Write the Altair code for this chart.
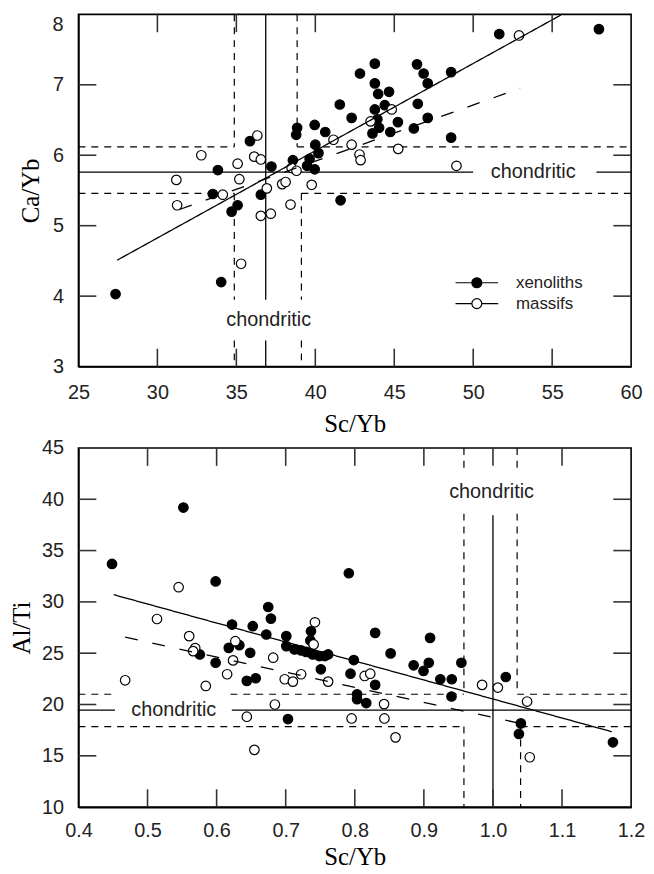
import altair as alt
import pandas as pd

SERIES = ["xenoliths", "massifs"]

top_xen_sc = [27.35, 34.04, 34.7, 35.08, 33.51, 33.83, 35.86, 36.55, 37.22, 38.85, 38.79,
              38.58, 39.48, 39.64, 39.96, 39.96, 40.0, 40.2, 40.63, 41.55, 41.6, 42.3,
              42.83, 43.77, 43.77, 43.98, 44.67, 43.77, 44.4, 43.93, 45.23, 44.04, 43.62,
              44.75, 46.44, 46.86, 47.12, 46.49, 47.12, 46.24, 48.6, 48.6, 51.65, 57.96]
top_xen_ca = [4.03, 4.20, 5.20, 5.29, 5.45, 5.79, 6.20, 5.44, 5.84, 6.39, 6.29,
              5.93, 5.85, 5.95, 5.80, 6.43, 6.15, 6.03, 6.33, 6.72, 5.36, 6.53,
              7.16, 7.30, 7.02, 6.87, 6.90, 6.65, 6.71, 6.51, 6.47, 6.39, 6.31,
              6.33, 7.29, 7.16, 7.02, 6.73, 6.53, 6.38, 7.18, 6.25, 7.72, 7.79]
top_mas_sc = [31.2, 31.25, 32.78, 34.14, 35.08, 35.19, 35.3, 36.33, 36.13, 36.55, 36.55,
              37.18, 36.93, 37.9, 38.12, 38.43, 38.5, 38.81, 39.77, 41.15, 42.3, 42.8,
              42.87, 43.5, 44.84, 45.25, 48.94, 52.9]
top_mas_ca = [5.65, 5.29, 6.0, 5.44, 5.88, 5.66, 4.46, 6.28, 5.98, 5.94, 5.14,
              5.17, 5.53, 5.59, 5.62, 5.30, 5.82, 5.78, 5.58, 6.22, 6.15, 6.01,
              5.93, 6.48, 6.65, 6.09, 5.85, 7.70]
top_fit_xen_x = [27.45, 55.55]
top_fit_xen_y = [4.51, 7.99]
top_fit_mas_x = [31.4, 52.97]
top_fit_mas_y = [5.23, 6.95]
top_solid = [(36.86, 36.86, 8.0, 3.95), (36.86, 36.86, 3.37, 3.0),
             (25.0, 50.0, 5.76, 5.76), (57.8, 60.0, 5.76, 5.76)]
top_dashed = [(25.0, 34.87, 6.12, 6.12), (38.85, 60.0, 6.12, 6.12),
              (25.0, 34.87, 5.46, 5.46), (39.12, 60.0, 5.46, 5.46),
              (34.87, 34.87, 8.0, 6.12), (34.87, 34.87, 5.46, 3.95), (34.87, 34.87, 3.37, 3.0),
              (38.85, 38.85, 8.0, 6.12),
              (39.12, 39.12, 5.46, 3.95), (39.12, 39.12, 3.37, 3.0)]
top_texts = [(53.8, 5.76, "chondritic"), (37.05, 3.66, "chondritic")]
top_xlabels = [25, 30, 35, 40, 45, 50, 55, 60]
top_ylabels = [3, 4, 5, 6, 7]
top_ylabel_top = "8"
top_xticks = [30, 35, 40, 45, 50, 55]
top_yticks = [4, 5, 6, 7]

bot_xen_sc = [0.4486, 0.5519, 0.5986, 0.6223, 0.6523, 0.6747, 0.6786, 0.5757, 0.5986, 0.6176,
              0.6329, 0.6486, 0.6437, 0.6566, 0.6719, 0.7009, 0.7009, 0.7033, 0.7128, 0.7223,
              0.7295, 0.739, 0.7486, 0.7566, 0.7614, 0.7366, 0.7357, 0.7509, 0.7914, 0.7986,
              0.7938, 0.8295, 0.8519, 0.8295, 0.8033, 0.8033, 0.8166, 0.8852, 0.8995, 0.9071,
              0.909, 0.9238, 0.9404, 0.94, 0.9543, 1.0186, 1.0404, 1.0376, 1.1737]
bot_xen_alti = [33.7, 39.19, 31.99, 27.79, 27.63, 29.5, 28.37, 24.88, 24.07, 25.52,
                25.78, 25.04, 22.30, 22.56, 26.82, 26.66, 25.69, 18.58, 25.37, 25.27,
                25.13, 24.88, 24.72, 24.72, 24.88, 27.14, 26.24, 23.43, 32.79, 24.33,
                23.0, 26.98, 24.98, 21.91, 21.0, 20.52, 20.14, 23.82, 23.27, 24.07,
                26.49, 22.46, 22.46, 20.78, 24.07, 22.68, 18.16, 17.13, 16.32]
bot_mas_sc = [0.4676, 0.5137, 0.545, 0.5603, 0.569, 0.566, 0.5843, 0.6152, 0.6238, 0.6271,
              0.6437, 0.6547, 0.6819, 0.6843, 0.6986, 0.7104, 0.7223, 0.7423, 0.7404, 0.7614,
              0.8143, 0.8224, 0.7954, 0.8424, 0.8429, 0.859, 0.9843, 1.0071, 1.0494, 1.0533]
bot_mas_alti = [22.36, 28.33, 31.43, 26.66, 25.5, 25.2, 21.81, 22.95, 24.3, 26.17,
                18.81, 15.58, 24.56, 20.0, 22.46, 22.23, 22.95, 28.01, 25.85, 22.23,
                22.78, 23.0, 18.64, 20.04, 18.64, 16.8, 21.91, 21.65, 20.29, 14.86]
bot_fit_xen_x = [0.451, 1.172]
bot_fit_xen_y = [30.7, 17.35]
bot_fit_mas_x = [0.4676, 1.05]
bot_fit_mas_y = [26.56, 18.0]
bot_solid = [(1.0, 1.0, 38.45, 10.0),
             (0.4, 0.453, 19.45, 19.45), (0.622, 1.2, 19.45, 19.45)]
bot_dashed = [(0.4, 0.455, 21.0, 21.0), (0.62, 0.958, 21.0, 21.0), (1.035, 1.2, 21.0, 21.0),
              (0.4, 0.958, 17.85, 17.85), (1.04, 1.2, 17.85, 17.85),
              (0.958, 0.958, 45.0, 42.8), (0.958, 0.958, 38.6, 21.0), (0.958, 0.958, 17.85, 10.0),
              (1.035, 1.035, 45.0, 42.8), (1.035, 1.035, 38.6, 21.0),
              (1.04, 1.04, 17.85, 10.0)]
bot_texts = [(0.538, 19.45, "chondritic"), (0.998, 40.7, "chondritic")]
bot_xlabels = [0.4, 0.5, 0.6, 0.7, 0.8, 0.9, 1.0, 1.1, 1.2]
bot_ylabels = [10, 15, 20, 25, 30, 35, 40, 45]
bot_xticks = [0.5, 0.6, 0.7, 0.8, 0.9, 1.0, 1.1]
bot_yticks = [15, 20, 25, 30, 35, 40]

SANS = "Liberation Sans"
SERIF = "Liberation Serif"
TXT = "#222222"
TICK = 18      # tick length, px
TICKW = 1.6    # tick thickness, px
LEGEND_PATH = "M-4.3,0L-1,0M1,0L4.3,0M1,0A1,1,0,1,1,-1,0A1,1,0,1,1,1,0Z"


def panel(xen_x, xen_y, mas_x, mas_y, fxx, fxy, fmx, fmy, solid, dashed, texts,
          xdom, ydom, xlabels, ylabels, xticks, yticks, xfmt, ytitle,
          W, H, xlabpad, xtitlepad, ytitlepad, legend, top_label):
    xs = alt.Scale(domain=xdom, nice=False, zero=False)
    ys = alt.Scale(domain=ydom, nice=False, zero=False)
    xaxis = alt.Axis(values=xlabels, format=xfmt, title="Sc/Yb", labelPadding=xlabpad,
                     titlePadding=xtitlepad, labelFlush=False, labelOverlap=False)
    yaxis = alt.Axis(values=ylabels, title=ytitle, labelPadding=15, titlePadding=ytitlepad,
                     labelOverlap=False, labelFlush=False)

    def X(f):
        return alt.X(f, type="quantitative", scale=xs, axis=xaxis)

    def Y(f):
        return alt.Y(f, type="quantitative", scale=ys, axis=yaxis)

    pts = pd.DataFrame({
        "x": list(xen_x) + list(mas_x),
        "y": list(xen_y) + list(mas_y),
        "series": ["xenoliths"] * len(xen_x) + ["massifs"] * len(mas_x),
    })
    fits = pd.DataFrame({
        "x": list(fxx) + list(fmx),
        "y": list(fxy) + list(fmy),
        "fit": ["xen"] * 2 + ["mas"] * 2,
    })
    sol = pd.DataFrame(solid, columns=["x", "x2", "y", "y2"])
    das = pd.DataFrame(dashed, columns=["x", "x2", "y", "y2"])
    txt = pd.DataFrame(texts, columns=["x", "y", "t"])

    # inward tick marks on all four sides, as thin rectangles (TICK x TICKW px)
    sy = (ydom[1] - ydom[0]) / H
    sx = (xdom[1] - xdom[0]) / W
    tick_rows = []
    for v in xticks:
        a, b = v - sx * TICKW / 2, v + sx * TICKW / 2
        tick_rows.append((a, b, ydom[0], ydom[0] + sy * TICK))
        tick_rows.append((a, b, ydom[1] - sy * TICK, ydom[1]))
    for v in yticks:
        a, b = v - sy * TICKW / 2, v + sy * TICKW / 2
        tick_rows.append((xdom[0], xdom[0] + sx * TICK, a, b))
        tick_rows.append((xdom[1] - sx * TICK, xdom[1], a, b))
    ticks = pd.DataFrame(tick_rows, columns=["tx", "tx2", "ty", "ty2"])

    solid_l = alt.Chart(sol).mark_rule(color="black", strokeWidth=1.3).encode(
        x=X("x"), x2="x2", y=Y("y"), y2="y2")
    dashed_l = alt.Chart(das).mark_rule(color="black", strokeWidth=1.2,
                                        strokeDash=[7, 6]).encode(
        x=X("x"), x2="x2", y=Y("y"), y2="y2")
    tick_l = alt.Chart(ticks).mark_rect(color="#333333", opacity=1).encode(
        x=X("tx"), x2="tx2", y=Y("ty"), y2="ty2")
    text_l = alt.Chart(txt).mark_text(font=SANS, fontSize=20, color=TXT).encode(
        x=X("x"), y=Y("y"), text="t:N")
    points = alt.Chart(pts).mark_point(shape="circle", filled=True, size=92, opacity=1,
                                       stroke="black", strokeWidth=1.2).encode(
        x=X("x"), y=Y("y"),
        fill=alt.Fill("series:N",
                      scale=alt.Scale(domain=SERIES, range=["black", "white"]),
                      legend=legend))
    lines = alt.Chart(fits).mark_line(color="black", strokeWidth=1.3).encode(
        x=X("x"), y=Y("y"), detail="fit:N",
        strokeDash=alt.StrokeDash("fit:N",
                                  scale=alt.Scale(domain=["xen", "mas"],
                                                  range=[[1, 0], [13, 15]]),
                                  legend=None))
    layers = [solid_l, dashed_l, text_l, points, lines, tick_l]
    if top_label is not None:
        # top tick label of the y axis, set just below the corner as in the original
        tl = pd.DataFrame({"x": [xdom[0]], "y": [ydom[1]], "t": [top_label]})
        layers.append(alt.Chart(tl).mark_text(font=SANS, fontSize=20, color=TXT,
                                              align="right", baseline="top", dx=-15, dy=1)
                      .encode(x=X("x"), y=Y("y"), text="t:N"))
    return alt.layer(*layers).properties(width=W, height=H)


top_legend = alt.Legend(title=None, orient="none", legendX=393, legendY=262,
                        symbolType=LEGEND_PATH, symbolSize=100,
                        symbolStrokeColor="black", symbolStrokeWidth=1.2,
                        labelFont=SANS, labelFontSize=17, labelColor=TXT,
                        labelOffset=31, rowPadding=3, padding=0)

top = panel(top_xen_sc, top_xen_ca, top_mas_sc, top_mas_ca,
            top_fit_xen_x, top_fit_xen_y, top_fit_mas_x, top_fit_mas_y,
            top_solid, top_dashed, top_texts,
            [25, 60], [3, 8], top_xlabels, top_ylabels, top_xticks, top_yticks,
            "d", "Ca/Yb", 557, 355, 16, 9, 9, top_legend, top_ylabel_top)

bot = panel(bot_xen_sc, bot_xen_alti, bot_mas_sc, bot_mas_alti,
            bot_fit_xen_x, bot_fit_xen_y, bot_fit_mas_x, bot_fit_mas_y,
            bot_solid, bot_dashed, bot_texts,
            [0.4, 1.2], [10, 45], bot_xlabels, bot_ylabels, bot_xticks, bot_yticks,
            ".1f", "Al/Ti", 557, 362, 14, 4, 7, None, None)

chart = alt.vconcat(top, bot, spacing=0).resolve_scale(
    x="independent", y="independent", fill="independent", strokeDash="independent"
).properties(padding=0).configure_view(
    stroke="black", strokeWidth=1.6
).configure_axis(
    grid=False, ticks=False, domain=True, domainColor="black", domainWidth=1.6,
    labelFont=SANS, labelFontSize=20, labelColor=TXT,
    titleFont=SERIF, titleFontSize=25, titleFontWeight="normal", titleColor="black"
)

chart.save("out.html", embed_options={"renderer": "svg", "actions": False})
